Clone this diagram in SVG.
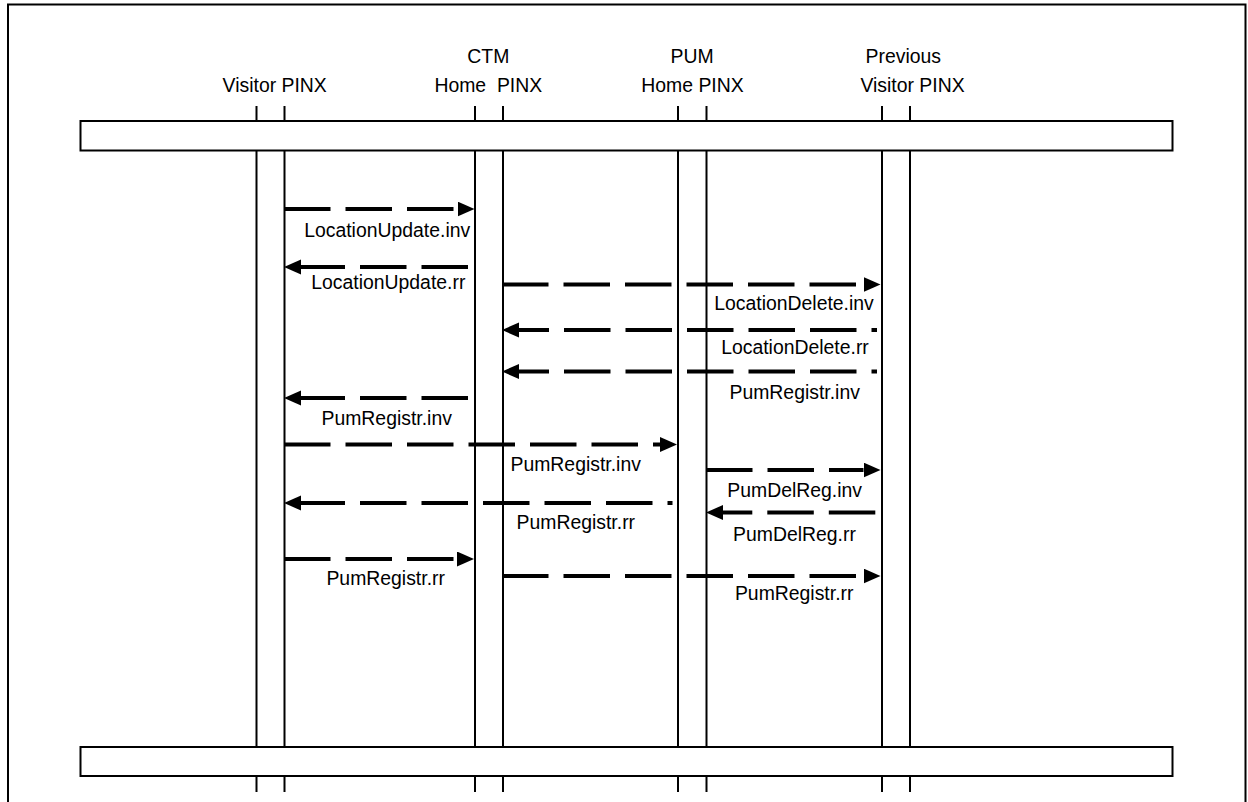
<svg xmlns="http://www.w3.org/2000/svg" width="1248" height="802" viewBox="0 0 1248 802">
<style>
text{font-family:"Liberation Sans",Arial,sans-serif;font-size:19.4px;fill:#000;text-anchor:middle;white-space:pre}
.ll{stroke:#000;stroke-width:2;fill:none}
.bar{stroke:#000;stroke-width:2;fill:#fff}
.msg{stroke:#000;stroke-width:4;fill:none;stroke-dasharray:46.5 15}
.r{marker-end:url(#ah)}
.l{marker-start:url(#ah)}
</style>
<defs>
<marker id="ah" markerUnits="userSpaceOnUse" markerWidth="18" markerHeight="16" refX="0" refY="7.5" orient="auto-start-reverse">
<path d="M0,0 L17,7.5 L0,15 z" fill="#000"/>
</marker>
</defs>
<rect width="1248" height="802" fill="#fff"/>
<path d="M8,802 V4.5 H1245.5 V802" fill="none" stroke="#000" stroke-width="2"/>

<g id="visitor">
<text x="274.7" y="91.5">Visitor PINX</text>
<line class="ll" x1="256.5" y1="106" x2="256.5" y2="792"/>
<line class="ll" x1="284.5" y1="106" x2="284.5" y2="792"/>
</g>
<g id="ctm">
<text x="488.3" y="62.5">CTM</text>
<text x="488.3" y="91.5">Home  PINX</text>
<line class="ll" x1="475" y1="106" x2="475" y2="792"/>
<line class="ll" x1="503" y1="106" x2="503" y2="792"/>
</g>
<g id="pum">
<text x="692" y="62.5">PUM</text>
<text x="692.5" y="91.5">Home PINX</text>
<line class="ll" x1="678" y1="106" x2="678" y2="792"/>
<line class="ll" x1="706.5" y1="106" x2="706.5" y2="792"/>
</g>
<g id="previous">
<text x="903.3" y="62.5">Previous</text>
<text x="912.5" y="91.5">Visitor PINX</text>
<line class="ll" x1="882" y1="106" x2="882" y2="792"/>
<line class="ll" x1="910" y1="106" x2="910" y2="792"/>
</g>
<g id="topbar"><rect class="bar" x="80.5" y="121" width="1092" height="29.5"/></g>
<g id="bottombar"><rect class="bar" x="80.5" y="747" width="1092" height="29"/></g>

<g id="connectors">
<path class="msg r" d="M284,209 H457.5"/>
<path class="msg l" d="M301,267 H469" stroke-dashoffset="2.5"/>
<path class="msg r" d="M502,284.5 H863.5"/>
<path class="msg l" d="M519,330 H877" stroke-dashoffset="16.5"/>
<path class="msg l" d="M519,371.5 H877" stroke-dashoffset="16.5"/>
<path class="msg l" d="M301,398 H469" stroke-dashoffset="2.5"/>
<path class="msg r" d="M284,444.5 H660"/>
<path class="msg r" d="M706,470 H863.5"/>
<path class="msg l" d="M301,503 H672.5" stroke-dashoffset="2.5"/>
<path class="msg l" d="M723,512.5 H877" stroke-dashoffset="17.2"/>
<path class="msg r" d="M284,559 H457"/>
<path class="msg r" d="M502,576 H863.5"/>
</g>

<g id="labels">
<text x="387.2" y="237">LocationUpdate.inv</text>
<text x="388.3" y="288.5">LocationUpdate.rr</text>
<text x="794" y="310">LocationDelete.inv</text>
<text x="795" y="353.5">LocationDelete.rr</text>
<text x="794.7" y="398.5">PumRegistr.inv</text>
<text x="386.7" y="425">PumRegistr.inv</text>
<text x="575.7" y="470.7">PumRegistr.inv</text>
<text x="794.7" y="496.7">PumDelReg.inv</text>
<text x="575.8" y="528.5">PumRegistr.rr</text>
<text x="794.5" y="540.7">PumDelReg.rr</text>
<text x="385.7" y="585">PumRegistr.rr</text>
<text x="794.2" y="600">PumRegistr.rr</text>
</g>
</svg>
